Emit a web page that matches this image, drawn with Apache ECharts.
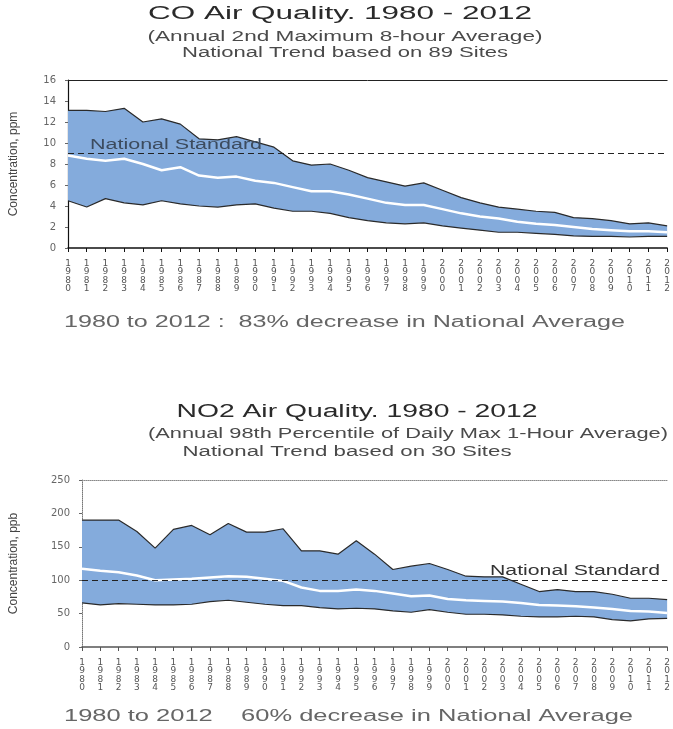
<!DOCTYPE html>
<html>
<head>
<meta charset="utf-8">
<title>CO and NO2 Air Quality, 1980 - 2012</title>
<script src="https://cdn.jsdelivr.net/npm/echarts@6/dist/echarts.min.js"></script>
<style>
  html, body { margin: 0; padding: 0; background: #fff; }
  #main { width: 673px; height: 729px; }
</style>
</head>
<body>
<div id="main"></div>
<script>
// years on both x axes
const years = ['1980', '1981', '1982', '1983', '1984', '1985', '1986', '1987', '1988', '1989',
  '1990', '1991', '1992', '1993', '1994', '1995', '1996', '1997', '1998', '1999',
  '2000', '2001', '2002', '2003', '2004', '2005', '2006', '2007', '2008', '2009',
  '2010', '2011', '2012'];

// CO, ppm (90th / mean / 10th percentile of sites)
const coUpper = [13.1, 13.1, 13.0, 13.3, 12.0, 12.3, 11.8, 10.4, 10.3, 10.6, 10.1, 9.6, 8.3, 7.9, 8.0,
  7.4, 6.7, 6.3, 5.9, 6.2, 5.5, 4.8, 4.3, 3.9, 3.7, 3.5, 3.4, 2.9, 2.8, 2.6, 2.3, 2.4, 2.1];
const coMean = [8.8, 8.5, 8.3, 8.5, 8.0, 7.4, 7.7, 6.9, 6.7, 6.8, 6.4, 6.2, 5.8, 5.4, 5.4,
  5.1, 4.7, 4.3, 4.1, 4.1, 3.7, 3.3, 3.0, 2.8, 2.5, 2.3, 2.2, 2.0, 1.8, 1.7, 1.6, 1.6, 1.5];
const coLower = [4.5, 3.9, 4.7, 4.3, 4.1, 4.5, 4.2, 4.0, 3.9, 4.1, 4.2, 3.8, 3.5, 3.5, 3.3,
  2.9, 2.6, 2.4, 2.3, 2.4, 2.1, 1.9, 1.7, 1.5, 1.5, 1.4, 1.3, 1.15, 1.1, 1.1, 1.05, 1.1, 1.1];
const coStandard = 9;

// NO2, ppb
const no2Upper = [190, 190, 190, 173, 148, 176, 182, 168, 185, 172, 172, 177, 144, 144, 139,
  159, 139, 116, 121, 125, 116, 106, 105, 105, 94, 83, 86, 83, 83, 79, 73, 73, 71];
const no2Mean = [117, 114, 112, 107, 100, 101, 102, 104, 106, 105, 102, 99, 89, 84, 84,
  86, 84, 80, 76, 77, 72, 70, 69, 68, 66, 63, 62, 61, 59, 57, 54, 53, 51];
const no2Lower = [66, 63, 65, 64, 63, 63, 64, 68, 70, 67, 64, 62, 62, 59, 57,
  58, 57, 54, 52, 56, 52, 49, 49, 48, 46, 45, 45, 46, 45, 41, 39, 42, 43];
const no2Standard = 100;

const coTicks = { min: 0, max: 16, interval: 2 };
const no2Ticks = { min: 0, max: 250, interval: 50 };

const bandColor = '#84abdc';
const edgeColor = '#2a2a2a';

const chart = echarts.init(document.getElementById('main'));

const stackedYears = (v) => v.split('').join('\n');

function bottomAxis(gridIndex, lineColor) {
  return {
    type: 'category', gridIndex, data: years, boundaryGap: false,
    axisLine: { lineStyle: { color: lineColor, width: 1.5 } },
    axisTick: { length: 4, lineStyle: { color: lineColor } },
    axisLabel: {
      interval: 0, margin: 11, formatter: stackedYears,
      fontFamily: 'DejaVu Sans', fontSize: 9, lineHeight: 8.5, color: '#555'
    },
    splitLine: { show: false }
  };
}

function topAxis(gridIndex, lineStyle) {
  return {
    type: 'category', gridIndex, data: years, boundaryGap: false, position: 'top',
    axisLine: { lineStyle }, axisTick: { show: false }, axisLabel: { show: false },
    splitLine: { show: false }
  };
}

function leftAxis(gridIndex, ticks, name, nameGap, lineStyle) {
  return {
    type: 'value', gridIndex, min: ticks.min, max: ticks.max, interval: ticks.interval,
    name, nameLocation: 'middle', nameGap,
    nameTextStyle: { fontFamily: 'Liberation Sans', fontSize: 12, color: '#444' },
    axisLine: { show: true, lineStyle },
    axisTick: { show: true, length: 3, lineStyle: { color: '#666' } },
    axisLabel: { margin: 12, fontFamily: 'DejaVu Sans', fontSize: 10, color: '#666' },
    splitLine: { show: false }
  };
}

function bandSeries(prefix, xi, yi, upper, mean, lower, standard) {
  const range = upper.map((u, i) => +(u - lower[i]).toFixed(2));
  return [
    {
      name: prefix + ' base', type: 'line', xAxisIndex: xi, yAxisIndex: yi, stack: prefix,
      data: lower, symbol: 'none', lineStyle: { opacity: 0 }, silent: true
    },
    {
      name: prefix + ' 90th percentile', type: 'line', xAxisIndex: xi, yAxisIndex: yi, stack: prefix,
      data: range, symbol: 'none',
      lineStyle: { color: edgeColor, width: 1.2 },
      areaStyle: { color: bandColor, opacity: 1 }
    },
    {
      name: prefix + ' 10th percentile', type: 'line', xAxisIndex: xi, yAxisIndex: yi,
      data: lower, symbol: 'none', lineStyle: { color: edgeColor, width: 1.2 }
    },
    {
      name: prefix + ' national average', type: 'line', xAxisIndex: xi, yAxisIndex: yi,
      data: mean, symbol: 'none', lineStyle: { color: '#ffffff', width: 2.5 },
      markLine: {
        silent: true, symbol: 'none', label: { show: false },
        lineStyle: { color: '#222', type: [6, 4], width: 1.2 },
        data: [{ yAxis: standard }]
      }
    }
  ];
}

chart.setOption({
  animation: false,
  backgroundColor: '#fff',
  grid: [
    { left: 65, right: 2, top: 80, bottom: 481 },
    { left: 82, right: -3, top: 480, bottom: 82 }
  ],
  xAxis: [
    bottomAxis(0, '#111'),
    topAxis(0, { color: '#222', width: 1 }),
    bottomAxis(1, '#555'),
    topAxis(1, { color: '#888', width: 1, type: 'dotted' })
  ],
  yAxis: [
    leftAxis(0, coTicks, 'Concentration, ppm', 48, { color: '#111', width: 1.2 }),
    leftAxis(1, no2Ticks, 'Concentration, ppb', 62, { color: '#777', width: 1, type: 'dotted' })
  ],
  series: [
    ...bandSeries('CO', 0, 0, coUpper, coMean, coLower, coStandard),
    ...bandSeries('NO2', 2, 1, no2Upper, no2Mean, no2Lower, no2Standard)
  ]
});

// stretched text (the source scan is wide), fitted to a target width
const ctx = document.createElement('canvas').getContext('2d');
function wideText(text, size, color, x, y, width, align) {
  const font = size + 'px "Liberation Sans"';
  ctx.font = font;
  const w = ctx.measureText(text).width;
  return {
    type: 'text', x, y, scaleX: width / w, silent: true, z: 100,
    style: { text, font, fill: color, textAlign: align, textVerticalAlign: 'middle' }
  };
}

const coStdY = chart.convertToPixel({ xAxisIndex: 0, yAxisIndex: 0 }, [0, coStandard])[1];
const no2StdY = chart.convertToPixel({ xAxisIndex: 2, yAxisIndex: 1 }, [0, no2Standard])[1];

chart.setOption({
  graphic: [
    wideText('CO Air Quality. 1980 - 2012', 18, '#2a2a2a', 340, 14, 384, 'center'),
    wideText('(Annual 2nd Maximum 8-hour Average)', 14, '#4a4a4a', 345, 37, 395, 'center'),
    wideText('National Trend based on 89 Sites', 14, '#4a4a4a', 345, 53, 326, 'center'),
    wideText('National Standard', 14, '#3c4b5e', 90, coStdY - 8, 172, 'left'),
    wideText('1980 to 2012 :  83% decrease in National Average', 16, '#666', 64, 323, 561, 'left'),
    wideText('NO2 Air Quality. 1980 - 2012', 18, '#2a2a2a', 357, 412, 361, 'center'),
    wideText('(Annual 98th Percentile of Daily Max 1-Hour Average)', 14, '#4a4a4a', 408, 434, 520, 'center'),
    wideText('National Trend based on 30 Sites', 14, '#4a4a4a', 347, 452, 329, 'center'),
    wideText('National Standard', 14, '#333', 490, no2StdY - 9, 170, 'left'),
    wideText('1980 to 2012    60% decrease in National Average', 16, '#666', 64, 717, 569, 'left')
  ]
});
</script>
</body>
</html>
